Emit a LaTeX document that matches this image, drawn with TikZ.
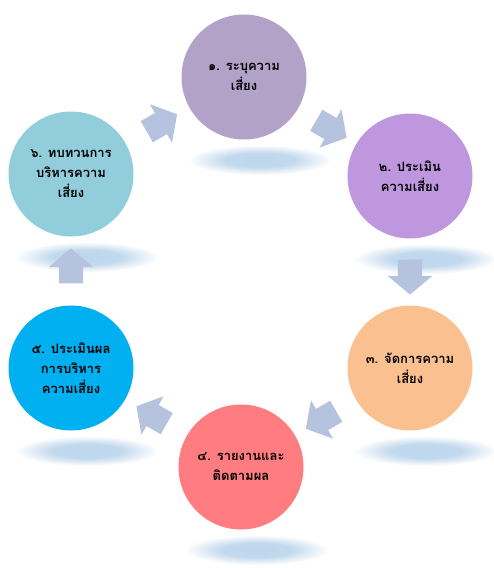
\documentclass[tikz,border=0pt]{standalone}
\usepackage{fontspec}
\newfontfamily\thaifont[Script=Thai]{Loma}
\usetikzlibrary{shapes.arrows,calc}
\definecolor{stepone}{RGB}{178,162,199}
\definecolor{steptwo}{RGB}{191,151,222}
\definecolor{stepthree}{RGB}{250,192,144}
\definecolor{stepfour}{RGB}{255,124,128}
\definecolor{stepfive}{RGB}{0,176,240}
\definecolor{stepsix}{RGB}{146,205,220}
\definecolor{arrowblue}{RGB}{181,195,222}
\pgfdeclareradialshading{softglow}{\pgfpointorigin}{%
	rgb(0bp)=(0.74,0.84,0.93);rgb(12bp)=(0.76,0.85,0.93);rgb(25bp)=(1,1,1);rgb(50bp)=(1,1,1)}
\tikzset{
	stepcirc/.style={circle,minimum size=125pt,inner sep=0pt,align=center,
		font=\thaifont\bfseries\fontsize{13}{20}\selectfont},
	cyclearrow/.style={single arrow,fill=arrowblue,inner xsep=0pt,inner ysep=12pt,text width=0pt,
		minimum height=35pt,single arrow head extend=10pt,single arrow tip angle=100}
}
\begin{document}
\begin{tikzpicture}[x=1pt,y=-1pt]
\useasboundingbox (0,0) rectangle (494,568);
% soft reflections under the circles
\foreach \x/\y in {244/77,410/176,410/368,241/467,71/368,71/174}{
	\shade[shading=softglow] (\x+16,\y+83) ellipse (72pt and 15pt);}
% steps
\node[stepcirc,fill=stepone] (s1) at (244,77) {๑. ระบุความ\\เสี่ยง};
\node[stepcirc,fill=steptwo] (s2) at (410,176) {๒. ประเมิน\\ความเสี่ยง};
\node[stepcirc,fill=stepthree] (s3) at (410,368) {๓. จัดการความ\\เสี่ยง};
\node[stepcirc,fill=stepfour] (s4) at (241,467) {๔. รายงานและ\\ติดตามผล};
\node[stepcirc,fill=stepfive] (s5) at (71,368) {๕. ประเมินผล\\การบริหาร\\ความเสี่ยง};
\node[stepcirc,fill=stepsix] (s6) at (71,174) {๖. ทบทวนการ\\บริหารความ\\เสี่ยง};
% arrows between steps
\foreach \a/\b/\r in {s1/s2/-30,s2/s3/-90,s3/s4/-150,s4/s5/150,s5/s6/90,s6/s1/30}{
	\node[cyclearrow,rotate=\r] (\a\b) at ($(\a)!0.5!(\b)$) {};}
\end{tikzpicture}
\end{document}
